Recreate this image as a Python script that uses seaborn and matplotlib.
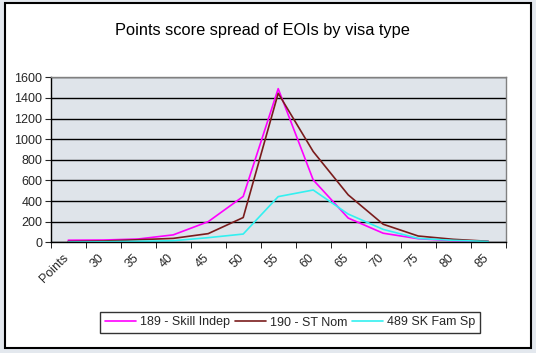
import pandas as pd
import numpy as np
import seaborn as sns
import matplotlib.pyplot as plt
from matplotlib.patches import Rectangle
from matplotlib.transforms import ScaledTranslation

# Categories along the x axis (Excel style category axis)
points = ['Points', '30', '35', '40', '45', '50', '55', '60', '65', '70', '75', '80', '85']

# EOI counts per visa type
skill_indep = [20, 22, 32, 72, 200, 445, 1490, 605, 235, 88, 35, 15, 8]
st_nom = [8, 12, 25, 38, 84, 240, 1445, 880, 460, 175, 61, 29, 10]
fam_sp = [2, 5, 10, 15, 45, 80, 443, 507, 274, 125, 38, 19, 8]

series_names = ['189 - Skill Indep', '190 - ST Nom', '489 SK Fam Sp']
series_colors = ['#ff00ff', '#7a1c1c', '#33f0f0']

data = pd.DataFrame({
    'Points': points * 3,
    'EOIs': skill_indep + st_nom + fam_sp,
    'Visa': [series_names[0]] * 13 + [series_names[1]] * 13 + [series_names[2]] * 13,
})

sns.set_style('white')
plt.rcParams['font.family'] = ['Liberation Sans', 'DejaVu Sans']

fig = plt.figure(figsize=(5.36, 3.53), dpi=100)
fig.patch.set_facecolor('#e3e8ee')

# white chart area with black frame
fig.patches.append(Rectangle((5 / 536, 1 - 348 / 353), 526 / 536, 345 / 353,
                             transform=fig.transFigure, facecolor='white',
                             edgecolor='black', linewidth=1.5, zorder=-1))

ax = fig.add_axes([50.7 / 536, 1 - 242.3 / 353, 455 / 536, 165 / 353])
ax.set_zorder(2)
ax.set_facecolor('#dfe4ea')

sns.lineplot(data=data, x='Points', y='EOIs', hue='Visa', palette=series_colors,
             linewidth=1.2, ax=ax, legend=False)

ax.set_xlim(-0.5, len(points) - 0.5)
ax.set_ylim(0, 1600)
ax.set_yticks(np.arange(0, 1601, 200))
ax.yaxis.grid(True, color='black', linewidth=1)
ax.set_axisbelow(True)
ax.tick_params(axis='y', labelsize=9, length=4, direction='out', left=True, pad=2)

# category ticks at boundaries, labels at centres
ax.set_xticks(np.arange(len(points)))
ax.set_xticklabels(points, rotation=45, ha='right', rotation_mode='anchor', fontsize=9)
ax.tick_params(axis='x', length=0, pad=7)
ax.set_xticks(np.arange(len(points) + 1) - 0.5, minor=True)
ax.tick_params(axis='x', which='minor', length=4, direction='out', bottom=True, color='black')
offset = ScaledTranslation(-4 / 72, 0, fig.dpi_scale_trans)
for lbl in ax.get_xticklabels():
    lbl.set_transform(lbl.get_transform() + offset)

ax.set_xlabel('')
ax.set_ylabel('')
for side in ['left', 'bottom']:
    ax.spines[side].set_color('black')
    ax.spines[side].set_linewidth(1)
for side in ['top', 'right']:
    ax.spines[side].set_color('#808080')
    ax.spines[side].set_linewidth(1)

fig.text(262 / 536, 1 - 31 / 353, 'Points score spread of EOIs by visa type',
         ha='center', va='center', fontsize=11.8, color='black')

handles = [plt.Line2D([], [], color=c, linewidth=1.2) for c in series_colors]
leg = fig.legend(handles, series_names, ncol=3, loc='center',
                 bbox_to_anchor=(290 / 536, 1 - 322.5 / 353), fontsize=9,
                 frameon=True, fancybox=False, edgecolor='black',
                 handlelength=2.5, handletextpad=0.3, columnspacing=0.4,
                 borderpad=0.35)
leg.get_frame().set_linewidth(1)

fig.savefig('out.png', dpi=100)
